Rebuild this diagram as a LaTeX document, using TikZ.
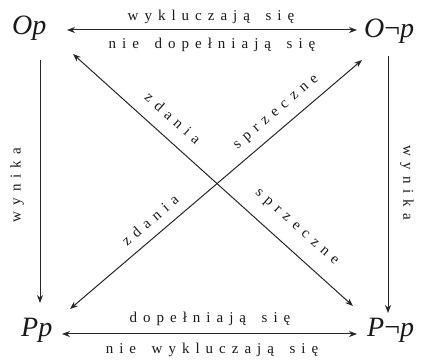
\documentclass[tikz,border=0pt]{standalone}
\usepackage{fontspec}
\setmainfont{Liberation Serif}
\newfontfamily\spacedfont[LetterSpace=40,WordSpace=1.6]{Liberation Serif}
\usetikzlibrary{arrows.meta}
\tikzset{
  lab/.style={font=\spacedfont\fontsize{15}{15}\selectfont, text=black!90, inner sep=0pt},
  big/.style={font=\fontsize{28}{28}\selectfont, text=black!90, inner sep=0pt},
  both/.style={line width=1pt, draw=black!85, {Stealth[length=8pt,width=6pt]}-{Stealth[length=8pt,width=6pt]}},
  one/.style={line width=1pt, draw=black!85, -{Stealth[length=8pt,width=6pt]}}
}
\begin{document}
\begin{tikzpicture}[x=1pt,y=-1pt]
\useasboundingbox (0,0) rectangle (421,363);
% statements
\node[big, anchor=base west] (Op)  at (12,35)  {\itshape Op};
\node[big, anchor=base west] (Onp) at (364,38) {\itshape O\upshape¬\itshape p};
\node[big, anchor=base west] (Pp)  at (21,337) {\itshape Pp};
\node[big, anchor=base west] (Pnp) at (367,337) {\itshape P\upshape¬\itshape p};
% connector ends
\coordinate (top1) at (67,30);   \coordinate (top2) at (357,30);
\coordinate (bot1) at (62,334);  \coordinate (bot2) at (357,334);
\coordinate (lv1) at (40,60);    \coordinate (lv2) at (40,303);
\coordinate (rv1) at (388,56);   \coordinate (rv2) at (388,313);
\coordinate (d1a) at (73,54);    \coordinate (d1b) at (353,306);
\coordinate (d2a) at (70,309);   \coordinate (d2b) at (362,60);
% connectors
\draw[both] (top1) -- (top2);
\draw[both] (bot1) -- (bot2);
\draw[one] (lv1) -- (lv2);
\draw[one] (rv1) -- (rv2);
\draw[both] (d1a) -- (d1b);
\draw[both] (d2a) -- (d2b);
% labels
\node[lab] (l1) at (211,17) {wykluczają się};
\node[lab] (l2) at (212,45) {nie dopełniają się};
\node[lab] (l3) at (210,319) {dopełniają się};
\node[lab] (l4) at (212,350) {nie wykluczają się};
\node[lab, rotate=90] (l5) at (17,185) {wynika};
\node[lab, rotate=-90] (l6) at (407,183) {wynika};
\node[lab, rotate=-42] (l7) at (173,118) {zdania};
\node[lab, rotate=40.5] (l8) at (277,113) {sprzeczne};
\node[lab, rotate=40.5] (l9) at (150,220) {zdania};
\node[lab, rotate=-42] (l10) at (296,228) {sprzeczne};
\end{tikzpicture}
\end{document}
